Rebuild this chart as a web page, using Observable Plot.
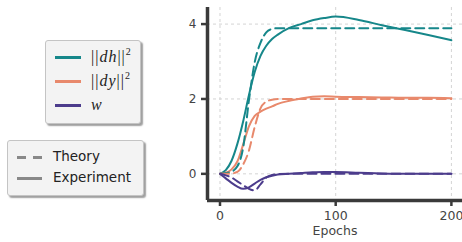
<!DOCTYPE html>
<html><head><meta charset="utf-8">
<script src="https://cdn.jsdelivr.net/npm/d3@7"></script>
<script src="https://cdn.jsdelivr.net/npm/@observablehq/plot@0.6"></script>
<style>
body{margin:0;background:#fff;}
#wrap{position:relative;width:462px;height:242px;overflow:hidden;font-family:"DejaVu Sans";}
#chart{position:absolute;left:0;top:0;}
.legend{position:absolute;background:#f3f3f3;border:1px solid #c4c4c4;border-radius:3px;box-shadow:2px 2px 1.5px rgba(0,0,0,0.38);box-sizing:border-box;}
.sw{position:absolute;height:3px;}
.lbl{position:absolute;white-space:nowrap;line-height:1;}
.m{font-family:"Liberation Serif";font-size:16px;color:#222;letter-spacing:1px;}
.m i{font-style:italic;}
.m sup{font-size:10px;font-style:normal;position:relative;top:-2px;vertical-align:top;letter-spacing:0;}
.t{font-size:13.5px;color:#222;}
</style>
</head><body>
<div id="wrap"><div id="chart"></div></div>
<script>
const epochs     = [0, 5, 10, 15, 20, 25, 30, 35, 40, 45, 50, 60, 70, 80, 90, 100, 120, 140, 160, 180, 200];
const dhExp      = [0, 0.10, 0.35, 0.80, 1.40, 2.10, 2.72, 3.15, 3.42, 3.60, 3.72, 3.90, 4.00, 4.10, 4.16, 4.20, 4.11, 3.97, 3.84, 3.71, 3.57];
const dhTheory   = [0, 0.02, 0.06, 0.20, 0.70, 1.96, 2.98, 3.50, 3.78, 3.87, 3.89, 3.89, 3.89, 3.89, 3.89, 3.89, 3.89, 3.89, 3.89, 3.89, 3.89];
const dyExp      = [0, 0.03, 0.12, 0.33, 0.78, 1.27, 1.55, 1.66, 1.74, 1.80, 1.87, 1.95, 2.01, 2.06, 2.07, 2.06, 2.05, 2.04, 2.03, 2.03, 2.02];
const dyTheory   = [0, 0.00, 0.01, 0.05, 0.25, 0.62, 1.25, 1.75, 1.93, 1.98, 2.00, 2.00, 2.00, 2.00, 2.00, 2.00, 2.00, 2.00, 2.00, 2.00, 2.00];
const wExp       = [0, -0.12, -0.24, -0.34, -0.40, -0.36, -0.26, -0.16, -0.09, -0.05, -0.02, 0.00, 0.02, 0.04, 0.05, 0.05, 0.03, 0.01, 0.00, 0.00, 0.00];
const wTheory    = [0, -0.04, -0.10, -0.20, -0.30, -0.40, -0.44, -0.28, -0.10, -0.03, -0.01, 0, 0, 0, 0, 0, 0, 0, 0, 0, 0];

const seriesKeys   = ["dh", "dy", "w"];
const seriesLabels = ["||<i>dh</i>||<sup>2</sup>", "||<i>dy</i>||<sup>2</sup>", "<i>w</i>"];
const seriesColors = ["#16878a", "#e8896c", "#4c3c8c"];
const styleLabels  = ["Theory", "Experiment"];
const xTicks = [0, 100, 200];
const yTicks = [0, 2, 4];
const xDomain = [-10.8, 209.6];
const yDomain = [-0.712, 4.443];

const rows = [];
function add(vals, series, kind) { epochs.forEach((e, i) => rows.push({epoch: e, value: vals[i], series, kind})); }
add(dhExp, "dh", "exp"); add(dhTheory, "dh", "theory");
add(dyExp, "dy", "exp"); add(dyTheory, "dy", "theory");
add(wExp, "w", "exp"); add(wTheory, "w", "theory");

const spine = "#3a3a3a";
const chart = Plot.plot({
  width: 462, height: 242,
  marginLeft: 207, marginRight: 0, marginTop: 7, marginBottom: 42,
  x: {domain: xDomain},
  y: {domain: yDomain},
  color: {domain: seriesKeys, range: seriesColors},
  style: {fontFamily: "DejaVu Sans", fontSize: "12px", color: "#444", background: "transparent", overflow: "visible"},
  marks: [
    Plot.gridX(xTicks, {stroke: "#d4d4d4", strokeOpacity: 1, strokeDasharray: "3,3"}),
    Plot.gridY(yTicks, {stroke: "#d4d4d4", strokeOpacity: 1, strokeDasharray: "3,3"}),
    Plot.line(rows.filter(d => d.kind === "exp"), {x: "epoch", y: "value", z: "series", stroke: "series", strokeWidth: 2, curve: "monotone-x"}),
    Plot.line(rows.filter(d => d.kind === "theory"), {x: "epoch", y: "value", z: "series", stroke: "series", strokeWidth: 2, strokeDasharray: "9,5", curve: "monotone-x"}),
    Plot.ruleX([xDomain[0]], {stroke: spine, strokeWidth: 3.5}),
    Plot.ruleY([yDomain[0]], {stroke: spine, strokeWidth: 3.5}),
    Plot.axisY(yTicks, {tickSize: 6, tickPadding: 5, stroke: spine, strokeWidth: 2.5, fill: "#444", label: null, fontSize: 12}),
    Plot.axisX(xTicks, {tickSize: 6, tickPadding: 5, stroke: spine, strokeWidth: 2.5, fill: "#444", label: "Epochs", labelAnchor: "center", labelArrow: "none", labelOffset: 34, fontSize: 12.5})
  ]
});
document.getElementById("chart").appendChild(chart);

const wrap = document.getElementById("wrap");
// legend 1: series colours
const l1 = document.createElement("div");
l1.className = "legend";
Object.assign(l1.style, {left: "45px", top: "40px", width: "96px", height: "84px"});
seriesKeys.forEach((k, i) => {
  const y = 16 + i * 24;
  const sw = document.createElement("div");
  sw.className = "sw";
  Object.assign(sw.style, {left: "9px", top: (y - 1.5) + "px", width: "26px", background: seriesColors[i]});
  l1.appendChild(sw);
  const t = document.createElement("div");
  t.className = "lbl m";
  t.innerHTML = seriesLabels[i];
  Object.assign(t.style, {left: "45px", top: (y - 8) + "px"});
  l1.appendChild(t);
});
wrap.appendChild(l1);
// legend 2: line styles
const l2 = document.createElement("div");
l2.className = "legend";
Object.assign(l2.style, {left: "7px", top: "140px", width: "137px", height: "56px"});
styleLabels.forEach((s, i) => {
  const y = 16.5 + i * 20.5;
  const sw = document.createElement("div");
  sw.className = "sw";
  Object.assign(sw.style, {left: "9px", top: (y - 1.5) + "px", width: "25px",
    background: i === 0 ? "repeating-linear-gradient(to right, #888 0 9px, transparent 9px 16px)" : "#888"});
  l2.appendChild(sw);
  const t = document.createElement("div");
  t.className = "lbl t";
  t.textContent = s;
  Object.assign(t.style, {left: "45px", top: (y - 7.5) + "px"});
  l2.appendChild(t);
});
wrap.appendChild(l2);
</script>
</body></html>
